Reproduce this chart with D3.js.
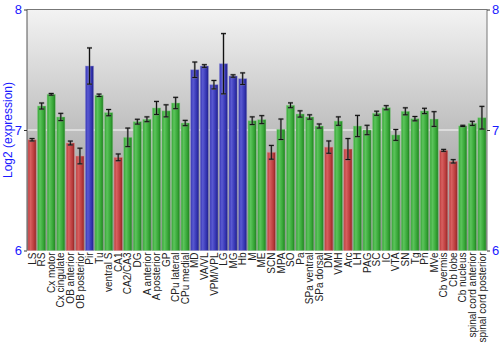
<!DOCTYPE html>
<html>
<head>
<meta charset="utf-8">
<script src="https://cdn.jsdelivr.net/npm/d3@7"></script>
<style>
  html, body { margin: 0; padding: 0; background: #fff; }
  svg { display: block; font-family: "Liberation Sans", Arial, sans-serif; }
</style>
</head>
<body>
<svg id="chart" width="500" height="350"></svg>
<script>
// Brain regions along the x axis
const regions = ["LS","RS","Cx motor","Cx cingulate","OB anterior","OB posterior","Pir","Tu","ventral S","CA1","CA2/CA3","DG","A anterior","A posterior","GP","CPu lateral","CPu medial","MD","VA/VL","VPM/VPL","LG","MG","Hb","M","ME","SCN","MPA","SO","Pa","SPa ventral","SPa dorsal","DM","VMH","Arc","LH","PAG","SC","IC","VTA","SN","Tg","Pn","MVe","Cb vermis","Cb lobe","Cb nucleus","spinal cord anterior","spinal cord posterior"];

// Mean log2 expression per region
const expression = [6.919,7.199,7.296,7.108,6.892,6.784,7.531,7.288,7.144,6.773,6.939,7.069,7.089,7.183,7.159,7.224,7.058,7.500,7.531,7.376,7.550,7.448,7.426,7.077,7.086,6.815,7.006,7.205,7.133,7.108,7.033,6.858,7.074,6.842,7.033,7.000,7.139,7.185,6.959,7.155,7.094,7.158,7.091,6.831,6.740,7.034,7.055,7.102];

// Error (half-width of the error bar)
const errors = [0.010,0.025,0.007,0.030,0.016,0.065,0.150,0.010,0.026,0.028,0.077,0.020,0.020,0.054,0.050,0.047,0.022,0.064,0.011,0.035,0.250,0.010,0.048,0.032,0.033,0.057,0.085,0.020,0.026,0.018,0.017,0.051,0.035,0.087,0.088,0.039,0.017,0.017,0.045,0.029,0.018,0.022,0.061,0.008,0.014,0.005,0.017,0.094];

// Colour group per region: "lo" = red, "mid" = green, "hi" = blue
const groups = ["lo","mid","mid","mid","lo","lo","hi","mid","mid","lo","mid","mid","mid","mid","mid","mid","mid","hi","hi","hi","hi","hi","hi","mid","mid","lo","mid","mid","mid","mid","mid","lo","mid","lo","mid","mid","mid","mid","mid","mid","mid","mid","mid","lo","lo","mid","mid","mid"];

const yTicks = [6, 7, 8];

const data = regions.map((r, i) => ({ region: r, value: expression[i], err: errors[i], group: groups[i] }));

const svg = d3.select("#chart");
const margin = { left: 27, right: 13, top: 9.5, bottom: 99.5 };
const W = 500, H = 350;
const x0 = margin.left, x1 = W - margin.right;
const yTop = margin.top, yBot = H - margin.bottom;

const x = d3.scaleBand().domain(regions).range([x0, x1]).paddingInner(0.14).paddingOuter(0.1);
const y = d3.scaleLinear().domain([6, 8]).range([yBot, yTop]);

const defs = svg.append("defs");

// Plot background: vertical grey gradient
const bg = defs.append("linearGradient").attr("id", "bg").attr("x1", 0).attr("y1", 0).attr("x2", 0).attr("y2", 1);
bg.append("stop").attr("offset", "0%").attr("stop-color", "#f3f3f3");
bg.append("stop").attr("offset", "100%").attr("stop-color", "#8a8a8a");

// Horizontal shading for each bar colour
const palette = {
  lo:  { light: "#d86060", mid: "#b83a3a", dark: "#8a2424", edge: "#e39a9a" },
  mid: { light: "#5cc45c", mid: "#33a333", dark: "#1f7a1f", edge: "#8fd08f" },
  hi:  { light: "#5a5ad2", mid: "#3232b0", dark: "#20207e", edge: "#9a9ad8" }
};
Object.entries(palette).forEach(([k, c]) => {
  const g = defs.append("linearGradient").attr("id", "bar-" + k).attr("x1", 0).attr("y1", 0).attr("x2", 1).attr("y2", 0);
  g.append("stop").attr("offset", "0%").attr("stop-color", c.mid);
  g.append("stop").attr("offset", "30%").attr("stop-color", c.light);
  g.append("stop").attr("offset", "75%").attr("stop-color", c.mid);
  g.append("stop").attr("offset", "100%").attr("stop-color", c.dark);
});

svg.append("rect")
  .attr("x", x0).attr("y", yTop)
  .attr("width", x1 - x0).attr("height", yBot - yTop)
  .attr("fill", "url(#bg)");

// Grid line at the middle tick
svg.append("line")
  .attr("x1", x0).attr("x2", x1)
  .attr("y1", y(7)).attr("y2", y(7))
  .attr("stroke", "#fafafa").attr("stroke-width", 1.2);

// Bars
svg.append("g").selectAll("rect")
  .data(data).join("rect")
  .attr("x", d => x(d.region))
  .attr("y", d => y(d.value))
  .attr("width", x.bandwidth())
  .attr("height", d => yBot - y(d.value))
  .attr("fill", d => `url(#bar-${d.group})`)
  .attr("stroke", d => palette[d.group].edge)
  .attr("stroke-opacity", 0.55)
  .attr("stroke-width", 0.8);

// Error bars: grey halo under a dark core
const eb = svg.append("g").selectAll("g").data(data).join("g")
  .attr("transform", d => `translate(${x(d.region) + x.bandwidth() / 2},0)`);
[["#777", 2.2, 0.6], ["#111", 1, 1]].forEach(([col, sw, op]) => {
  eb.append("line")
    .attr("y1", d => y(d.value + d.err)).attr("y2", d => y(d.value - d.err))
    .attr("stroke", col).attr("stroke-width", sw).attr("stroke-opacity", op);
  eb.append("line")
    .attr("x1", -2.5).attr("x2", 2.5)
    .attr("y1", d => y(d.value + d.err)).attr("y2", d => y(d.value + d.err))
    .attr("stroke", col).attr("stroke-width", sw).attr("stroke-opacity", op);
  eb.append("line")
    .attr("x1", -2.5).attr("x2", 2.5)
    .attr("y1", d => y(d.value - d.err)).attr("y2", d => y(d.value - d.err))
    .attr("stroke", col).attr("stroke-width", sw).attr("stroke-opacity", op);
});

// Frame lines
svg.append("line").attr("x1", x0).attr("x2", x1).attr("y1", yTop).attr("y2", yTop)
  .attr("stroke", "#777").attr("stroke-width", 1);

// Left and right value axes
const leftAxis = d3.axisLeft(y).tickValues(yTicks).tickFormat(d3.format("d")).tickSize(3).tickPadding(2);
const rightAxis = d3.axisRight(y).tickValues(yTicks).tickFormat(d3.format("d")).tickSize(3).tickPadding(2);
const gl = svg.append("g").attr("transform", `translate(${x0},0)`).call(leftAxis);
const gr = svg.append("g").attr("transform", `translate(${x1},0)`).call(rightAxis);
[gl, gr].forEach(g => {
  g.select(".domain").attr("d", `M0,${yTop}V${yBot}`);
  g.selectAll(".tick line").attr("stroke", "#333");
  g.selectAll(".tick text").attr("fill", "#1a1aff").attr("font-size", 13);
});
gl.select(".domain").attr("stroke", "#555");
gr.select(".domain").attr("stroke", "#777");

// Axis title
svg.append("text")
  .attr("transform", `translate(12,${(yTop + yBot) / 2}) rotate(-90)`)
  .attr("text-anchor", "middle")
  .attr("fill", "#1a1aff")
  .attr("font-size", 12)
  .text("Log2 (expression)");

// Region labels, rotated
svg.append("g").selectAll("text")
  .data(regions).join("text")
  .attr("transform", d => `translate(${x(d) + x.bandwidth() / 2 + 3.6},${yBot + 2}) rotate(-90)`)
  .attr("text-anchor", "end")
  .attr("fill", "#222")
  .attr("font-size", 10)
  .text(d => d);
</script>
</body>
</html>
